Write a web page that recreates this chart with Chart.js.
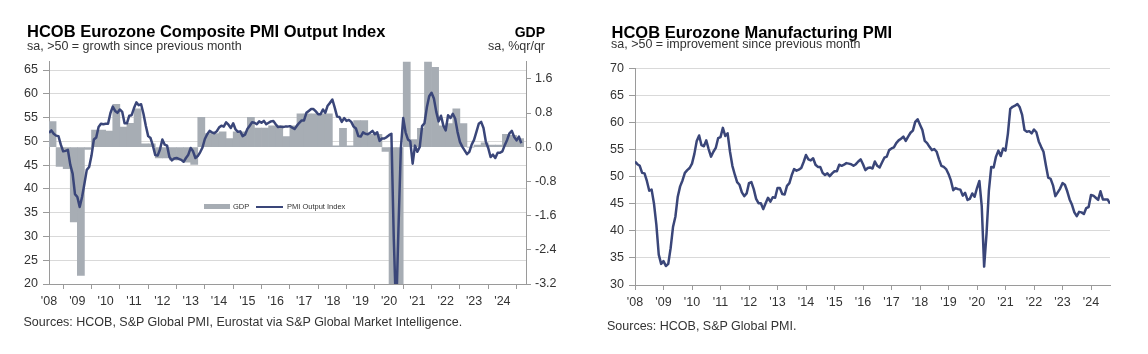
<!DOCTYPE html>
<html><head><meta charset="utf-8">
<script src="https://cdn.jsdelivr.net/npm/chart.js@4.4.1/dist/chart.umd.min.js"></script>
<style>
html,body{margin:0;padding:0;background:#fff;}
body{width:1148px;height:354px;position:relative;overflow:hidden;font-family:'Liberation Sans',Arial,sans-serif;}
.t{position:absolute;white-space:nowrap;line-height:1;color:#333;}
canvas{position:absolute;top:0;}
</style></head><body>
<canvas id="c1" width="580" height="354" style="left:0"></canvas>
<canvas id="c2" width="568" height="354" style="left:580px"></canvas>

<div class="t" style="left:27px;top:23px;font-size:16.5px;font-weight:bold;color:#000">HCOB Eurozone Composite PMI Output Index</div>
<div class="t" style="left:27px;top:39.5px;font-size:12.5px;">sa, &gt;50 = growth since previous month</div>
<div class="t" style="left:445px;width:100px;text-align:right;top:25px;font-size:14px;font-weight:bold;color:#000">GDP</div>
<div class="t" style="left:445px;width:100px;text-align:right;top:39.5px;font-size:12.5px;">sa, %qr/qr</div>
<div class="t" style="left:23.5px;top:315.5px;font-size:12.5px;">Sources: HCOB, S&amp;P Global PMI, Eurostat via S&amp;P Global Market Intelligence.</div>

<div style="position:absolute;left:204px;top:204px;width:26px;height:5px;background:#a7adb4"></div>
<div class="t" style="left:233px;top:202.8px;font-size:7.5px;">GDP</div>
<div style="position:absolute;left:256px;top:205.5px;width:27px;height:2px;background:#3a4679"></div>
<div class="t" style="left:287px;top:202.8px;font-size:7.5px;">PMI Output Index</div>

<div class="t" style="left:611.5px;top:24px;font-size:16.5px;font-weight:bold;color:#000">HCOB Eurozone Manufacturing PMI</div>
<div class="t" style="left:611px;top:37.5px;font-size:12.5px;">sa, &gt;50 = improvement since previous month</div>
<div class="t" style="left:607px;top:320px;font-size:12.5px;">Sources: HCOB, S&amp;P Global PMI.</div>

<script>
// ---------- DATA ----------
const yearLabels = ["'08","'09","'10","'11","'12","'13","'14","'15","'16","'17","'18","'19","'20","'21","'22","'23","'24"];

// Composite PMI Output Index, monthly Jan 2008 - Sep 2024
const compositePMI = [
  51.8,52.3,51.6,51.2,51.1,49.3,47.9,48.0,48.2,45.1,43.2,38.9,
  38.3,36.2,38.3,41.1,44.0,44.6,47.0,50.4,50.8,53.0,53.7,53.6,
  53.7,53.7,55.9,57.3,56.4,56.0,56.7,56.2,53.8,53.8,55.4,55.5,
  57.0,58.2,57.6,57.8,55.8,53.3,51.1,50.7,49.1,47.1,47.0,48.3,
  50.4,49.3,49.1,46.7,46.0,46.4,46.5,46.3,46.1,45.7,46.5,47.2,
  48.6,47.9,46.5,46.9,47.7,48.7,50.5,51.5,52.2,51.9,51.7,52.1,
  52.9,53.3,53.1,54.0,53.5,52.8,53.8,52.5,52.0,52.1,51.1,51.4,
  52.6,53.3,54.0,53.9,53.6,54.2,53.9,54.3,53.6,53.9,54.2,54.3,
  53.6,53.0,53.1,53.0,53.1,53.1,53.2,52.9,52.6,53.3,53.9,54.4,
  54.4,56.0,56.4,56.8,56.8,56.3,55.7,55.7,56.7,56.0,57.5,58.1,
  58.8,57.1,55.2,55.1,54.1,54.9,54.3,54.5,54.1,53.1,52.7,51.1,
  51.0,51.9,51.6,51.5,51.8,52.2,51.5,51.9,50.1,50.6,50.6,50.9,
  51.3,51.6,29.7,13.6,31.9,48.5,54.9,51.9,50.4,50.0,45.3,49.1,
  47.8,48.8,53.2,53.8,57.1,59.5,60.2,59.0,56.2,54.2,55.4,53.3,
  52.3,55.5,54.9,55.8,54.8,52.0,49.9,48.9,48.1,47.3,47.8,49.3,
  50.3,52.0,53.7,54.1,52.8,49.9,48.6,46.7,47.2,46.5,47.6,47.6,
  47.9,49.2,50.3,51.7,52.2,50.9,50.2,51.0,49.6
];

// GDP %q/q, quarterly Q1 2008 - Q3 2024
const gdpQoQ = [
  0.6,-0.45,-0.5,-1.75,
  -3.0,-0.05,0.4,0.4,
  0.38,1.0,0.47,0.56,
  0.9,0.08,0.08,-0.25,
  -0.25,-0.3,-0.3,-0.35,
  -0.4,0.7,0.32,0.32,
  0.36,0.2,0.36,0.36,
  0.7,0.45,0.45,0.5,
  0.5,0.25,0.5,0.78,
  0.78,0.78,0.78,0.78,
  0.03,0.44,0.03,0.62,
  0.62,0.3,0.3,-0.1,
  -3.6,-11.6,12.5,0.18,
  0.44,2.2,1.87,0.5,
  0.55,0.9,0.55,0.0,
  0.05,0.1,0.05,0.05,
  0.3,0.28,0.2
];

// Manufacturing PMI, monthly Jan 2008 - Sep 2024
const manufacturingPMI = [
  52.8,52.3,52.0,50.7,50.6,49.2,47.4,47.6,45.0,41.1,35.6,33.9,
  34.4,33.5,33.9,36.8,40.7,42.6,46.3,48.2,49.3,50.7,51.2,51.6,
  52.4,54.2,56.6,57.6,55.8,55.6,56.7,55.1,53.7,54.6,55.3,57.1,
  57.3,59.0,57.5,58.0,54.6,52.0,50.4,49.0,48.5,47.1,46.4,46.9,
  48.8,49.0,47.7,45.9,45.1,45.1,44.0,45.1,46.1,45.4,46.2,46.1,
  47.9,47.9,46.8,46.7,48.3,48.8,50.3,51.4,51.1,51.3,51.6,52.7,
  54.0,53.2,53.0,53.4,52.2,51.8,51.8,50.7,50.3,50.6,50.1,50.6,
  51.0,51.0,52.2,52.0,52.2,52.5,52.4,52.3,52.0,52.3,52.8,53.2,
  52.3,51.2,51.6,51.7,51.5,52.8,52.0,51.7,52.6,53.5,53.7,54.9,
  55.2,55.4,56.2,56.7,57.0,57.4,56.6,57.4,58.1,58.5,60.1,60.6,
  59.6,58.6,56.6,56.2,55.5,54.9,55.1,54.6,53.2,52.0,51.8,51.4,
  50.5,49.3,47.5,47.9,47.7,47.6,46.5,47.0,45.7,45.9,46.9,46.3,
  47.9,49.2,44.5,33.4,39.4,47.4,51.8,51.7,53.7,54.8,53.8,55.2,
  54.8,57.9,62.5,62.9,63.1,63.4,62.8,61.4,58.6,58.3,58.4,58.0,
  58.7,58.2,56.5,55.5,54.6,52.1,49.8,49.6,48.4,46.4,47.1,47.8,
  48.8,48.5,47.3,45.8,44.8,43.4,42.7,43.5,43.4,43.1,44.2,44.4,
  46.6,46.5,46.1,45.7,47.3,45.8,45.8,45.8,45.0
];

const pmiTicks = [20,25,30,35,40,45,50,55,60,65];
const gdpTicks = [-3.2,-2.4,-1.6,-0.8,0,0.8,1.6];
const mfgTicks = [30,35,40,45,50,55,60,65,70];

// ---------- STYLE ----------
const NAVY = '#3a4679';
const BARGREY = '#a7adb4';
const GRID = '#d9d9d9';
const AXIS = '#9a9a9a';
Chart.defaults.font.family = "'Liberation Sans', Arial, sans-serif";
Chart.defaults.font.size = 12.5;
Chart.defaults.color = '#333';

const monthPts = arr => arr.map((v,i)=>({x:i, y:v}));
const quarterPts = arr => arr.map((v,q)=>({x:q*3+1.5, y:v}));
const setTicks = list => (axis => { axis.ticks = list.map(v=>({value:v})); });
const gridColor = base => (c => c.tick && c.tick.value === base ? 'rgba(0,0,0,0)' : GRID);

function xAxis(max, h){
  return {
    type:'linear', min:0, max:max, offset:false,
    afterBuildTicks: axis => { axis.ticks = yearLabels.map((_,i)=>({value:i*12})); },
    afterFit: s => { s.height = h; },
    ticks:{ autoSkip:false, maxRotation:0, padding:5, callback:(v,i)=>yearLabels[i] },
    grid:{ drawOnChartArea:false, drawTicks:true, tickLength:5, tickColor:AXIS },
    border:{ color:AXIS }
  };
}

new Chart(document.getElementById('c1'), {
  type:'line',
  data:{ datasets:[
    { type:'line', label:'PMI Output Index', data:monthPts(compositePMI), yAxisID:'y',
      borderColor:NAVY, borderWidth:2.5, pointRadius:0, tension:0, borderJoinStyle:'round', order:0 },
    { type:'bar', label:'GDP', data:quarterPts(gdpQoQ), yAxisID:'y2',
      backgroundColor:BARGREY, borderWidth:0, barPercentage:1, categoryPercentage:1, order:1 }
  ]},
  options:{
    responsive:false, animation:false, devicePixelRatio:1,
    layout:{ padding:{ top:61.7, bottom:40, left:0, right:0 } },
    plugins:{ legend:{display:false}, tooltip:{enabled:false} },
    scales:{
      x: xAxis(202, 30),
      y: { type:'linear', position:'left', min:20, max:66.75,
           afterBuildTicks:setTicks(pmiTicks), afterFit: s => { s.width = 49; },
           ticks:{ padding:5, callback:v=>String(v) },
           grid:{ color:gridColor(20), tickColor:AXIS, tickLength:6 },
           border:{ color:AXIS } },
      y2:{ type:'linear', position:'right', min:-3.2, max:2.0,
           afterBuildTicks:setTicks(gdpTicks), afterFit: s => { s.width = 54; },
           ticks:{ padding:4, callback:v=>v.toFixed(1) },
           grid:{ drawOnChartArea:false, tickColor:AXIS, tickLength:5 },
           border:{ color:AXIS } }
    }
  }
});

new Chart(document.getElementById('c2'), {
  type:'line',
  data:{ datasets:[
    { label:'Manufacturing PMI', data:monthPts(manufacturingPMI),
      borderColor:NAVY, borderWidth:2.5, pointRadius:0, tension:0, borderJoinStyle:'round' }
  ]},
  options:{
    responsive:false, animation:false, devicePixelRatio:1,
    layout:{ padding:{ top:68.3, bottom:39, left:0, right:38 } },
    plugins:{ legend:{display:false}, tooltip:{enabled:false} },
    scales:{
      x: xAxis(200, 30),
      y: { type:'linear', position:'left', min:30, max:70,
           afterBuildTicks:setTicks(mfgTicks), afterFit: s => { s.width = 55; },
           ticks:{ padding:5, callback:v=>String(v) },
           grid:{ color:gridColor(30), tickColor:AXIS, tickLength:6 },
           border:{ color:AXIS } }
    }
  }
});
</script>
</body></html>
